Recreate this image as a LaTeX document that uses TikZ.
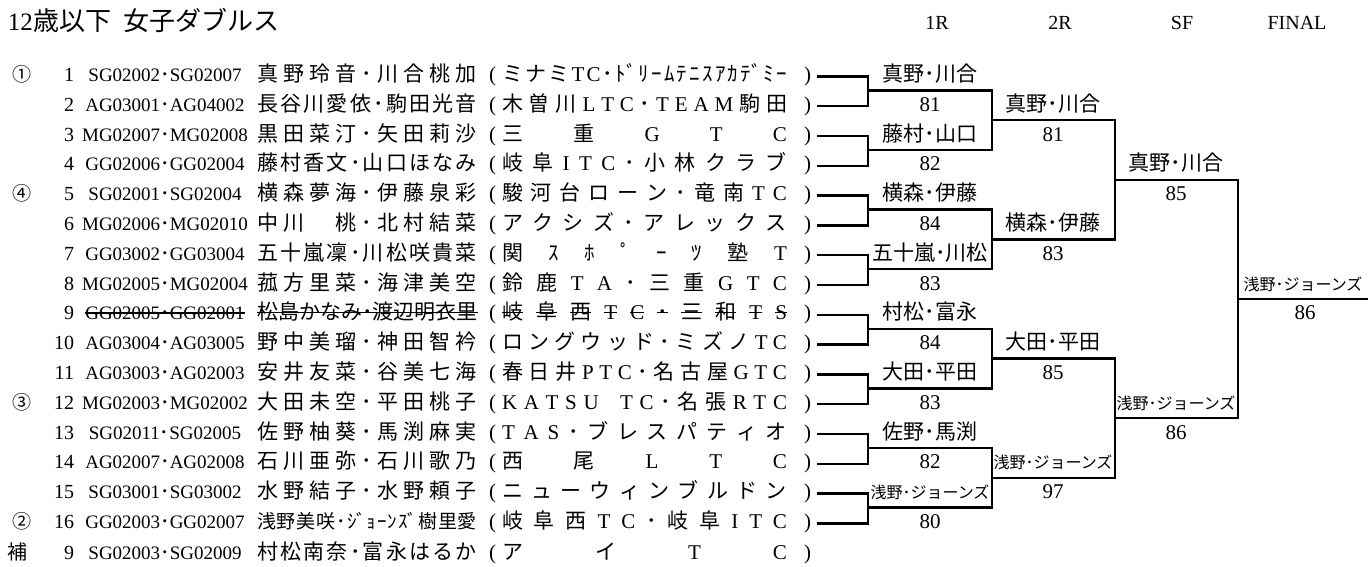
\documentclass[tikz,border=0pt]{standalone}
\usepackage{fontspec}
\setmainfont{Liberation Serif}
\newfontfamily\cjk{Noto Sans CJK JP}
\newfontfamily\latf{Liberation Serif}
\usetikzlibrary{calc}
\newbox\stkbox
\newcommand\stk[1]{\setbox\stkbox\hbox{#1}\rlap{\raisebox{0.33em}{\rule{\wd\stkbox}{1.2pt}}}\box\stkbox}
\def\spreadend{}
\def\spreadmark{\spreadend}
\def\spplain#1{{#1}}
\def\spreadloop#1{\def\sptmp{#1}\ifx\sptmp\spreadmark\else\spitem{#1}\hfill\expandafter\spreadloop\fi}
\newcommand\spread[2]{\hbox to #1{\let\spitem\spplain\spreadloop#2\spreadend\unskip}}
\newcommand\spreadS[2]{\hbox to #1{\let\spitem\stk\spreadloop#2\spreadend\unskip}}
\newcommand\iddot{{\cjk ･}}
\newcommand\rowy[1]{81.5+29.8*(#1-1)}
\newcommand\rowentry[6]{%
 \node[rnum] (n#1) at (74,{#2}) {#3};
 \node[idf] (id#1) at (165,{#2}) {#4};
 \node[namef] (nm#1) at (257,{#2}) {#5};
 \node[parf] (lp#1) at (489,{#2}) {(};
 \node[clubf] (cl#1) at (502,{#2}) {#6};
 \node[endp] (e#1) at (818,{#2}) {)};
}
\tikzset{
 every node/.style={inner sep=0pt, outer sep=0pt},
 br/.style={line width=2.4pt, line cap=rect, line join=miter},
 titlef/.style={anchor=base west},
 hdr/.style={anchor=base, font=\fontsize{20}{24}\selectfont},
 circ/.style={anchor=base, font=\fontsize{19}{23}\selectfont\cjk},
 rnum/.style={anchor=base east, font=\fontsize{20}{24}\selectfont},
 idf/.style={anchor=base, font=\fontsize{19}{23}\selectfont},
 namef/.style={anchor=base west, font=\fontsize{21}{25}\selectfont\cjk},
 parf/.style={anchor=base west, font=\fontsize{21}{25}\selectfont},
 clubf/.style={anchor=base west, font=\fontsize{21}{25}\selectfont\cjk},
 endp/.style={anchor=base east, outer xsep=7pt, font=\fontsize{21}{25}\selectfont},
 win/.style={anchor=base, font=\fontsize{21}{25}\selectfont\cjk},
 winsm/.style={anchor=base, font=\fontsize{16}{19}\selectfont\cjk},
 score/.style={anchor=base, font=\fontsize{21}{25}\selectfont},
}
\begin{document}
\begin{tikzpicture}[x=1pt,y=-1pt]
\path[use as bounding box, fill=white] (0,0) rectangle (1368,566);
% title and headers
\node[titlef] (title) at (8,30) {{\fontsize{25}{29}\selectfont 12}{\fontsize{26}{30}\selectfont\cjk 歳以下\hspace{13pt}女子ダブルス}};
\node[hdr] (h1) at (937,29) {1R};
\node[hdr] (h2) at (1060,29) {2R};
\node[hdr] (h3) at (1182,29) {SF};
\node[hdr] (h4) at (1297,29) {FINAL};
% seeds
\node[circ] (c1) at (22,{\rowy{1}}) {①};
\node[circ] (c5) at (22,{\rowy{5}}) {④};
\node[circ] (c12) at (22,{\rowy{12}}) {③};
\node[circ] (c16) at (22,{\rowy{16}}) {②};
\node[circ, font=\fontsize{20}{24}\selectfont\cjk] (cH) at (17,559) {補};
% entries
\rowentry{1}{\rowy{1}}{1}{SG02002\iddot SG02007}{\spread{220pt}{真野玲音･川合桃加}}{\spread{285pt}{ミナミ{\latf T}{\latf C}･{ﾄﾞ}ﾘｰﾑﾃﾆｽｱｶ{ﾃﾞ}ﾐｰ}}
\rowentry{2}{\rowy{2}}{2}{AG03001\iddot AG04002}{\spread{220pt}{長谷川愛依･駒田光音}}{\spread{285pt}{木曽川{\latf L}{\latf T}{\latf C}･{\latf T}{\latf E}{\latf A}{\latf M}駒田}}
\rowentry{3}{\rowy{3}}{3}{MG02007\iddot MG02008}{\spread{220pt}{黒田菜汀･矢田莉沙}}{\spread{285pt}{三重{\latf G}{\latf T}{\latf C}}}
\rowentry{4}{\rowy{4}}{4}{GG02006\iddot GG02004}{\spread{220pt}{藤村香文･山口ほなみ}}{\spread{285pt}{岐阜{\latf I}{\latf T}{\latf C}･小林クラブ}}
\rowentry{5}{\rowy{5}}{5}{SG02001\iddot SG02004}{\spread{220pt}{横森夢海･伊藤泉彩}}{\spread{285pt}{駿河台ローン･竜南{\latf T}{\latf C}}}
\rowentry{6}{\rowy{6}}{6}{MG02006\iddot MG02010}{\spread{220pt}{中川　桃･北村結菜}}{\spread{285pt}{アクシズ･アレックス}}
\rowentry{7}{\rowy{7}}{7}{GG03002\iddot GG03004}{\spread{220pt}{五十嵐凜･川松咲貴菜}}{\spread{285pt}{関ｽﾎﾟｰﾂ塾{\latf T}}}
\rowentry{8}{\rowy{8}}{8}{MG02005\iddot MG02004}{\spread{220pt}{菰方里菜･海津美空}}{\spread{285pt}{鈴鹿{\latf T}{\latf A}･三重{\latf G}{\latf T}{\latf C}}}
\rowentry{9}{\rowy{9}}{9}{\stk{GG02005\iddot GG02001}}{\spreadS{220pt}{松島かなみ･渡辺明衣里}}{\spreadS{285pt}{岐阜西{\latf T}{\latf C}･三和{\latf T}{\latf S}}}
\rowentry{10}{\rowy{10}}{10}{AG03004\iddot AG03005}{\spread{220pt}{野中美瑠･神田智衿}}{\spread{285pt}{ロングウッド･ミズノ{\latf T}{\latf C}}}
\rowentry{11}{\rowy{11}}{11}{AG03003\iddot AG02003}{\spread{220pt}{安井友菜･谷美七海}}{\spread{285pt}{春日井{\latf P}{\latf T}{\latf C}･名古屋{\latf G}{\latf T}{\latf C}}}
\rowentry{12}{\rowy{12}}{12}{MG02003\iddot MG02002}{\spread{220pt}{大田未空･平田桃子}}{\spread{285pt}{{\latf K}{\latf A}{\latf T}{\latf S}{\latf U}{\hspace{8pt}}{\latf T}{\latf C}･名張{\latf R}{\latf T}{\latf C}}}
\rowentry{13}{\rowy{13}}{13}{SG02011\iddot SG02005}{\spread{220pt}{佐野柚葵･馬渕麻実}}{\spread{285pt}{{\latf T}{\latf A}{\latf S}･ブレスパティオ}}
\rowentry{14}{\rowy{14}}{14}{AG02007\iddot AG02008}{\spread{220pt}{石川亜弥･石川歌乃}}{\spread{285pt}{西尾{\latf L}{\latf T}{\latf C}}}
\rowentry{15}{\rowy{15}}{15}{SG03001\iddot SG03002}{\spread{220pt}{水野結子･水野頼子}}{\spread{285pt}{ニューウィンブルドン}}
\rowentry{16}{\rowy{16}}{16}{GG02003\iddot GG02007}{{\fontsize{19}{22}\selectfont\spread{220pt}{浅野美咲･{ｼﾞ}ｮｰﾝ{ｽﾞ}樹里愛}}}{\spread{285pt}{岐阜西{\latf T}{\latf C}･岐阜{\latf I}{\latf T}{\latf C}}}
\rowentry{H}{559}{9}{SG02003\iddot SG02009}{\spread{220pt}{村松南奈･富永はるか}}{\spread{285pt}{アイ{\latf T}{\latf C}}}
% bracket: first round
\foreach \p in {1,...,8}{
 \pgfmathtruncatemacro\ta{2*\p-1}
 \pgfmathtruncatemacro\tb{2*\p}
 \pgfmathsetmacro\my{74.5+29.8*(2*\p-1.5)+1}
 \coordinate (a\p) at (868,\my);
 \coordinate (b\p) at (992,\my);
 \draw[br] (e\ta.east) -| (a\p) |- (e\tb.east);
 \draw[br] (a\p) -- (b\p);
}
% second round
\foreach \q in {1,...,4}{
 \pgfmathtruncatemacro\ta{2*\q-1}
 \pgfmathtruncatemacro\tb{2*\q}
 \pgfmathsetmacro\my{74.5+29.8*(4*\q-2.5)+1}
 \coordinate (c\q) at (992,\my);
 \coordinate (d\q) at (1115,\my);
 \draw[br] (b\ta) -- (b\tb);
 \draw[br] (c\q) -- (d\q);
}
% semi finals
\foreach \r in {1,2}{
 \pgfmathtruncatemacro\ta{2*\r-1}
 \pgfmathtruncatemacro\tb{2*\r}
 \pgfmathsetmacro\my{74.5+29.8*(8*\r-4.5)+1}
 \coordinate (f\r) at (1115,\my);
 \coordinate (g\r) at (1238,\my);
 \draw[br] (d\ta) -- (d\tb);
 \draw[br] (f\r) -- (g\r);
}
% final
\coordinate (fa) at (1238,{74.5+29.8*7.5+1});
\coordinate (fb) at (1368,{74.5+29.8*7.5+1});
\draw[br] (g1) -- (g2);
\draw[br] (fa) -- (fb);
% first round results
\node[win] (w11) at (930,{\rowy{1}}) {真野･川合};
\node[score] (s11) at (930,{\rowy{2}}) {81};
\node[win] (w12) at (930,{\rowy{3}}) {藤村･山口};
\node[score] (s12) at (930,{\rowy{4}}) {82};
\node[win] (w13) at (930,{\rowy{5}}) {横森･伊藤};
\node[score] (s13) at (930,{\rowy{6}}) {84};
\node[win] (w14) at (930,{\rowy{7}}) {五十嵐･川松};
\node[score] (s14) at (930,{\rowy{8}}) {83};
\node[win] (w15) at (930,{\rowy{9}}) {村松･富永};
\node[score] (s15) at (930,{\rowy{10}}) {84};
\node[win] (w16) at (930,{\rowy{11}}) {大田･平田};
\node[score] (s16) at (930,{\rowy{12}}) {83};
\node[win] (w17) at (930,{\rowy{13}}) {佐野･馬渕};
\node[score] (s17) at (930,{\rowy{14}}) {82};
\node[winsm] (w18) at (930,{\rowy{15}}) {浅野･ジョーンズ};
\node[score] (s18) at (930,{\rowy{16}}) {80};
% second round results
\node[win] (w21) at (1053,{\rowy{2}}) {真野･川合};
\node[score] (s21) at (1053,{\rowy{3}}) {81};
\node[win] (w22) at (1053,{\rowy{6}}) {横森･伊藤};
\node[score] (s22) at (1053,{\rowy{7}}) {83};
\node[win] (w23) at (1053,{\rowy{10}}) {大田･平田};
\node[score] (s23) at (1053,{\rowy{11}}) {85};
\node[winsm] (w24) at (1053,{\rowy{14}}) {浅野･ジョーンズ};
\node[score] (s24) at (1053,{\rowy{15}}) {97};
% semi final results
\node[win] (w31) at (1176,{\rowy{4}}) {真野･川合};
\node[score] (s31) at (1176,{\rowy{5}}) {85};
\node[winsm] (w32) at (1176,{\rowy{12}}) {浅野･ジョーンズ};
\node[score] (s32) at (1176,{\rowy{13}}) {86};
% final result
\node[winsm] (w41) at (1303,{\rowy{8}}) {浅野･ジョーンズ};
\node[score] (s41) at (1305,{\rowy{9}}) {86};
\end{tikzpicture}
\end{document}
